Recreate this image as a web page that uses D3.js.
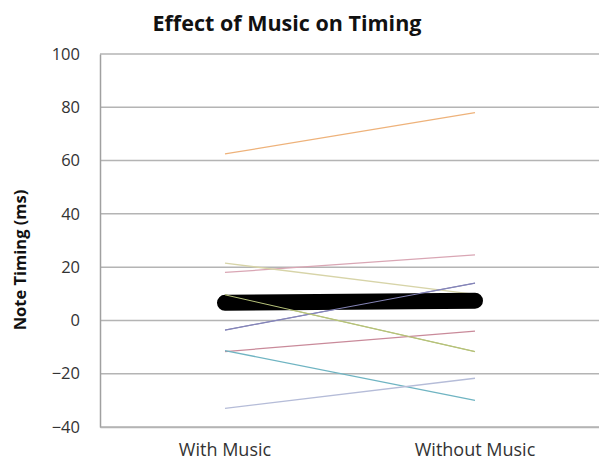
<!DOCTYPE html>
<html>
<head>
<meta charset="utf-8">
<script src="https://cdn.jsdelivr.net/npm/d3@7"></script>
<style>
  body { margin: 0; background: #fff; }
  svg { display: block; }
</style>
</head>
<body>
<div id="chart"></div>
<script>
// categories on the x axis
var conditions = ["With Music", "Without Music"];

// one pair per participant: [with music, without music]
var withMusic    = [62.5, 18, 21.5, -3.6, 9.6, -11.7, -11.3, -33];
var withoutMusic = [78, 24.6, 9.8, 14, -11.7, -4, -30, -21.7];
var lineColors   = ["#eeb27a", "#d9a6b4", "#d7d4a8", "#8585b8", "#b6c27a", "#c98a9a", "#6fb4c2", "#b5bcd8"];

// the average line, drawn thick in black
var meanLine = [6.6, 7.4];

var yTicks = [-40, -20, 0, 20, 40, 60, 80, 100];

var chart = {
    w: 599,
    h: 461,
    margin: { top: 54, right: -1, bottom: 34, left: 100 }
};

chart.svg = d3.select("#chart")
    .append("svg")
    .attr("width", chart.w)
    .attr("height", chart.h);

var innerW = chart.w - chart.margin.left - chart.margin.right,
    innerH = chart.h - chart.margin.top - chart.margin.bottom;

var xScale = d3.scaleBand()
    .domain(conditions)
    .range([chart.margin.left, chart.margin.left + innerW]);

var yScale = d3.scaleLinear()
    .domain([-40, 100])
    .range([chart.margin.top + innerH, chart.margin.top]);

function xMid(c) {
    return xScale(c) + xScale.bandwidth() / 2;
}

// gridlines
chart.svg.append("g")
    .selectAll("line")
    .data(yTicks)
    .enter().append("line")
    .attr("x1", chart.margin.left)
    .attr("x2", chart.margin.left + innerW)
    .attr("y1", function (d) { return yScale(d); })
    .attr("y2", function (d) { return yScale(d); })
    .attr("stroke", "#b4b4b4")
    .attr("stroke-width", 1.5);

// y axis
var yAxis = d3.axisLeft(yScale)
    .tickValues(yTicks)
    .tickSize(0)
    .tickPadding(20);

var yG = chart.svg.append("g")
    .attr("transform", "translate(" + chart.margin.left + ",0)")
    .call(yAxis);
yG.select(".domain").attr("stroke", "#a0a0a0").attr("stroke-width", 1.5);
yG.selectAll("text")
    .attr("font-family", "Open Sans, sans-serif")
    .attr("font-size", 16.5)
    .attr("fill", "#333");

// x axis labels
var xAxis = d3.axisBottom(xScale).tickSize(0).tickPadding(16);
var xG = chart.svg.append("g")
    .attr("transform", "translate(0," + (chart.margin.top + innerH) + ")")
    .call(xAxis);
xG.select(".domain").attr("stroke", "#b4b4b4").attr("stroke-width", 1.5);
xG.selectAll("text")
    .attr("font-family", "Open Sans, sans-serif")
    .attr("font-size", 18)
    .attr("fill", "#333");

// participant lines
var pairs = withMusic.map(function (v, i) {
    return { a: v, b: withoutMusic[i], color: lineColors[i] };
});

chart.svg.append("g")
    .selectAll("line")
    .data(pairs)
    .enter().append("line")
    .attr("x1", xMid(conditions[0]))
    .attr("x2", xMid(conditions[1]))
    .attr("y1", function (d) { return yScale(d.a); })
    .attr("y2", function (d) { return yScale(d.b); })
    .attr("stroke", function (d) { return d.color; })
    .attr("stroke-width", 1.3);

// mean line
chart.svg.append("path")
    .datum(meanLine)
    .attr("d", d3.line()
        .x(function (d, i) { return xMid(conditions[i]); })
        .y(function (d) { return yScale(d); }))
    .attr("fill", "none")
    .attr("stroke", "#000")
    .attr("stroke-width", 16)
    .attr("stroke-linecap", "round");

// redraw the olive and blue lines over the black bar, as in the original
chart.svg.append("g")
    .selectAll("line")
    .data(pairs.filter(function (d, i) { return i == 3 || i == 4; }))
    .enter().append("line")
    .attr("x1", xMid(conditions[0]))
    .attr("x2", xMid(conditions[1]))
    .attr("y1", function (d) { return yScale(d.a); })
    .attr("y2", function (d) { return yScale(d.b); })
    .attr("stroke", function (d) { return d.color; })
    .attr("stroke-width", 1);

// title
chart.svg.append("text")
    .attr("x", 287)
    .attr("y", 31)
    .attr("text-anchor", "middle")
    .attr("font-family", "Open Sans, sans-serif")
    .attr("font-weight", "bold")
    .attr("font-size", 21.5)
    .attr("fill", "#111")
    .text("Effect of Music on Timing");

// y axis title
chart.svg.append("text")
    .attr("transform", "translate(26,260) rotate(-90)")
    .attr("text-anchor", "middle")
    .attr("font-family", "Open Sans, sans-serif")
    .attr("font-weight", "bold")
    .attr("font-size", 16.5)
    .attr("fill", "#111")
    .text("Note Timing (ms)");
</script>
</body>
</html>
